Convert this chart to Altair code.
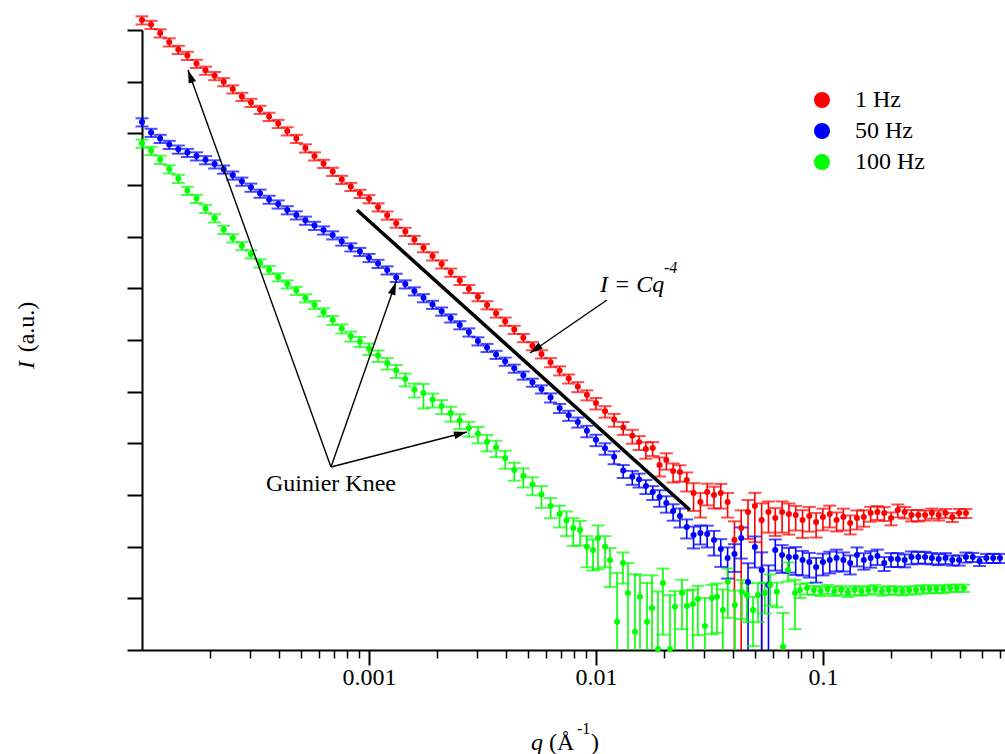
import math
import altair as alt
import pandas as pd

# ---------------- data ----------------
# log10 of q (1/Å) and log10 of I (a.u.), plus relative error dI/I per point
series_names = ["1 Hz", "50 Hz", "100 Hz"]
series_colors = ["#ff0000", "#0000ff", "#00ff00"]

red_log_q = [-4.00, -3.96, -3.92, -3.88, -3.84, -3.80, -3.76, -3.72, -3.68, -3.64,
             -3.60, -3.56, -3.52, -3.48, -3.44, -3.40, -3.36, -3.32, -3.28, -3.24,
             -3.20, -3.16, -3.12, -3.08, -3.04, -3.00, -2.96, -2.92, -2.88, -2.84,
             -2.80, -2.76, -2.72, -2.68, -2.64, -2.60, -2.56, -2.52, -2.48, -2.44,
             -2.40, -2.36, -2.32, -2.28, -2.24, -2.20, -2.16, -2.12, -2.08, -2.04,
             -2.00, -1.96, -1.92, -1.88, -1.84,
             -1.81, -1.78, -1.75, -1.72, -1.69, -1.66, -1.63, -1.60, -1.57, -1.54,
             -1.51, -1.48, -1.45, -1.42, -1.39, -1.36, -1.33, -1.30, -1.27, -1.24,
             -1.21, -1.18, -1.15, -1.12, -1.09, -1.06, -1.03, -1.00, -0.97, -0.94,
             -0.91, -0.88, -0.85, -0.82, -0.79, -0.76, -0.73, -0.70, -0.67, -0.64,
             -0.61, -0.58, -0.55, -0.52, -0.49, -0.46, -0.43, -0.40, -0.37]
red_log_I = [12.193, 12.106, 11.941, 11.767, 11.622, 11.506, 11.351, 11.219, 11.115, 10.997,
             10.857, 10.712, 10.596, 10.461, 10.325, 10.188, 10.045, 9.899, 9.715, 9.561,
             9.416, 9.261, 9.106, 8.970, 8.835, 8.732, 8.574, 8.415, 8.258, 8.100,
             7.943, 7.784, 7.625, 7.469, 7.310, 7.151, 6.994, 6.836, 6.679, 6.520,
             6.362, 6.203, 6.044, 5.887, 5.729, 5.570, 5.411, 5.254, 5.098, 4.939,
             4.780, 4.622, 4.463, 4.306, 4.148,
             4.026, 3.890, 3.909, 3.580, 3.677, 3.464, 3.445, 3.290, 3.039, 2.864,
             3.058, 3.000, 3.039, 2.864, 2.129, 2.361, 2.671, 2.787, 2.516, 2.671,
             2.555, 2.671, 2.632, 2.613, 2.516, 2.593, 2.477, 2.574, 2.632, 2.516,
             2.574, 2.458, 2.555, 2.574, 2.651, 2.671, 2.651, 2.555, 2.709, 2.671,
             2.613, 2.613, 2.613, 2.651, 2.613, 2.651, 2.574, 2.651, 2.651]
red_rel_err = [0.18, 0.18, 0.18, 0.18, 0.18, 0.18, 0.18, 0.18, 0.18, 0.18,
               0.18, 0.18, 0.18, 0.18, 0.18, 0.18, 0.18, 0.18, 0.18, 0.18,
               0.18, 0.18, 0.18, 0.18, 0.18, 0.18, 0.18, 0.18, 0.18, 0.18,
               0.18, 0.18, 0.18, 0.18, 0.18, 0.18, 0.18, 0.18, 0.18, 0.18,
               0.18, 0.18, 0.18, 0.18, 0.18, 0.20, 0.20, 0.20, 0.22, 0.22,
               0.25, 0.25, 0.28, 0.28, 0.30,
               0.30, 0.35, 0.30, 0.40, 0.35, 0.40, 0.35, 0.40, 0.55, 0.50,
               0.45, 0.45, 0.50, 0.50, 1.30, 1.20, 0.70, 0.80, 1.10, 0.60,
               0.55, 0.60, 0.60, 0.50, 0.55, 0.50, 0.50, 0.45, 0.45, 0.40,
               0.45, 0.40, 0.40, 0.35, 0.32, 0.30, 0.30, 0.28, 0.28, 0.25,
               0.25, 0.25, 0.22, 0.22, 0.22, 0.20, 0.20, 0.20, 0.20]

blue_log_q = [-4.00, -3.96, -3.92, -3.88, -3.84, -3.80, -3.76, -3.72, -3.68, -3.64,
              -3.60, -3.56, -3.52, -3.48, -3.44, -3.40, -3.36, -3.32, -3.28, -3.24,
              -3.20, -3.16, -3.12, -3.08, -3.04, -3.00, -2.96, -2.92, -2.88, -2.84,
              -2.80, -2.76, -2.72, -2.68, -2.64, -2.60, -2.56, -2.52, -2.48, -2.44,
              -2.40, -2.36, -2.32, -2.28, -2.24, -2.20, -2.16, -2.12, -2.08, -2.04,
              -2.00, -1.96, -1.92, -1.88, -1.84,
              -1.81, -1.78, -1.75, -1.72, -1.69, -1.66, -1.63, -1.60, -1.57, -1.54,
              -1.51, -1.48, -1.45, -1.42, -1.39, -1.36, -1.33, -1.30, -1.27, -1.24,
              -1.21, -1.18, -1.15, -1.12, -1.09, -1.06, -1.03, -1.00, -0.97, -0.94,
              -0.91, -0.88, -0.85, -0.82, -0.79, -0.76, -0.73, -0.70, -0.67, -0.64,
              -0.61, -0.58, -0.55, -0.52, -0.49, -0.46, -0.43, -0.40, -0.37, -0.34,
              -0.31, -0.28, -0.25, -0.22]
blue_log_I = [10.219, 10.016, 9.899, 9.783, 9.692, 9.628, 9.561, 9.487, 9.406, 9.305,
              9.189, 9.071, 8.955, 8.839, 8.721, 8.630, 8.518, 8.419, 8.316, 8.216,
              8.127, 8.032, 7.912, 7.800, 7.711, 7.594, 7.480, 7.354, 7.209, 7.083,
              6.948, 6.816, 6.687, 6.557, 6.425, 6.292, 6.153, 5.980, 5.853, 5.719,
              5.587, 5.452, 5.318, 5.181, 5.051, 4.887, 4.684, 4.544, 4.413, 4.242,
              4.070, 3.904, 3.739, 3.472, 3.352,
              3.300, 3.174, 3.058, 2.961, 2.845, 2.690, 2.593, 2.381, 2.226, 2.264,
              2.245, 2.129, 1.955, 1.781, 1.858, 2.168, 1.316, 1.993, 1.548, 1.258,
              1.935, 1.839, 1.800, 1.800, 1.742, 1.703, 1.606, 1.703, 1.742, 1.781,
              1.742, 1.684, 1.839, 1.742, 1.781, 1.819, 1.684, 1.761, 1.761, 1.742,
              1.800, 1.800, 1.800, 1.781, 1.761, 1.781, 1.742, 1.742, 1.800, 1.800,
              1.722, 1.781, 1.781, 1.781]
blue_rel_err = [0.18, 0.18, 0.18, 0.18, 0.18, 0.18, 0.18, 0.18, 0.18, 0.18,
                0.18, 0.18, 0.18, 0.18, 0.18, 0.18, 0.18, 0.18, 0.18, 0.18,
                0.18, 0.18, 0.18, 0.18, 0.18, 0.18, 0.18, 0.18, 0.18, 0.18,
                0.18, 0.18, 0.18, 0.18, 0.18, 0.18, 0.18, 0.18, 0.18, 0.18,
                0.18, 0.18, 0.18, 0.18, 0.18, 0.20, 0.20, 0.22, 0.22, 0.25,
                0.25, 0.25, 0.28, 0.28, 0.30,
                0.30, 0.30, 0.30, 0.35, 0.35, 0.35, 0.40, 0.40, 0.45, 0.40,
                0.45, 0.50, 0.55, 0.60, 0.55, 0.60, 1.30, 0.60, 1.20, 1.40,
                0.60, 0.55, 0.50, 0.55, 0.50, 0.50, 0.50, 0.45, 0.45, 0.45,
                0.40, 0.40, 0.40, 0.35, 0.35, 0.33, 0.30, 0.30, 0.30, 0.28,
                0.28, 0.26, 0.26, 0.25, 0.24, 0.24, 0.22, 0.22, 0.22, 0.20,
                0.20, 0.20, 0.20, 0.20]

green_log_q = [-4.00, -3.96, -3.92, -3.88, -3.84, -3.80, -3.76, -3.72, -3.68, -3.64,
               -3.60, -3.56, -3.52, -3.48, -3.44, -3.40, -3.36, -3.32, -3.28, -3.24,
               -3.20, -3.16, -3.12, -3.08, -3.04, -3.00, -2.96, -2.92, -2.88, -2.84,
               -2.80, -2.76, -2.72, -2.68, -2.64, -2.60, -2.56, -2.52, -2.48, -2.44,
               -2.40, -2.36, -2.32, -2.28, -2.24, -2.20, -2.16,
               -2.13, -2.10, -2.07,
               -2.040, -2.013, -1.991, -1.960, -1.938, -1.907, -1.881, -1.859, -1.828, -1.806,
               -1.775, -1.753, -1.727, -1.705, -1.674, -1.652, -1.621, -1.599, -1.573, -1.551,
               -1.520, -1.489, -1.467, -1.441, -1.419, -1.388, -1.357, -1.335, -1.308, -1.286,
               -1.256, -1.233, -1.203, -1.176, -1.154, -1.123, -1.101, -1.070,
               -1.04, -1.01, -0.98, -0.95, -0.92, -0.89, -0.86, -0.83, -0.80, -0.77,
               -0.74, -0.71, -0.68, -0.65, -0.62, -0.59, -0.56, -0.53, -0.50, -0.47,
               -0.44, -0.41, -0.38]
green_log_I = [9.807, 9.667, 9.493, 9.309, 9.125, 8.893, 8.738, 8.545, 8.361, 8.138,
               7.974, 7.823, 7.664, 7.490, 7.358, 7.219, 7.083, 6.958, 6.812, 6.683,
               6.542, 6.387, 6.222, 6.077, 5.971, 5.835, 5.700, 5.554, 5.409, 5.245,
               5.042, 4.974, 4.848, 4.722, 4.587, 4.442, 4.297, 4.186, 4.031, 3.919,
               3.716, 3.484, 3.368, 3.203, 3.009, 2.787, 2.632,
               2.506, 2.361, 2.322,
               1.999, 1.935, 2.168, 1.999, 1.742, 0.548, 1.684, 1.103, 0.354, 1.032,
               0.548, 0.813, 0.020, 1.297, 0.020, 0.838, 1.103, 0.852, 0.890, 0.987,
               0.464, 1.006, 1.032, 0.774, 1.322, 0.871, 1.123, 1.064, 0.774, 1.064,
               1.103, 1.258, 1.128, 0.064, 1.548, 1.103, 1.161, 1.200,
               1.161, 1.142, 1.181, 1.142, 1.161, 1.123, 1.161, 1.142, 1.161, 1.181,
               1.142, 1.161, 1.161, 1.142, 1.161, 1.161, 1.181, 1.181, 1.181, 1.181,
               1.200, 1.200, 1.200]
green_rel_err = [0.18, 0.18, 0.18, 0.18, 0.18, 0.18, 0.18, 0.18, 0.18, 0.18,
                 0.18, 0.18, 0.18, 0.18, 0.18, 0.18, 0.18, 0.18, 0.18, 0.18,
                 0.18, 0.20, 0.20, 0.22, 0.22, 0.25, 0.25, 0.25, 0.28, 0.28,
                 0.30, 0.50, 0.30, 0.30, 0.32, 0.32, 0.32, 0.35, 0.35, 0.35,
                 0.38, 0.38, 0.40, 0.38, 0.45, 0.42, 0.45,
                 0.50, 0.55, 0.50,
                 0.60, 0.60, 0.75, 0.60, 0.70, 7.8, 0.60, 2.8, 12.0, 1.6,
                 4.6, 3.3, 12.0, 0.90, 10.0, 1.0, 0.80, 1.0, 0.90, 0.80,
                 2.5, 0.80, 0.80, 1.5, 0.80, 0.90, 0.70, 0.70, 0.80, 0.70,
                 0.60, 0.60, 0.50, 3.5, 0.40, 0.80, 0.30, 0.25,
                 0.20, 0.20, 0.20, 0.20, 0.20, 0.20, 0.20, 0.19, 0.19, 0.19,
                 0.19, 0.19, 0.18, 0.18, 0.18, 0.18, 0.18, 0.17, 0.17, 0.17,
                 0.16, 0.16, 0.16]

# annotations (log10 q, log10 I)
guide_log_q = [-3.053, -1.586]
guide_log_I = [8.516, 2.709]
arrow_start_log_q = [-3.1674, -3.1674, -3.1674, -1.9515]
arrow_start_log_I = [3.542, 3.542, 3.542, 6.774]
arrow_end_log_q = [-3.7974, -2.8811, -2.5683, -2.2907]
arrow_end_log_I = [11.225, 7.122, 4.219, 5.748]

# ---------------- layout ----------------
W, H = 863, 620
X_MIN, X_MAX = 1e-4, 0.634
Y_MIN, Y_MAX = 1.0, 1e12
PX_X = W / (math.log10(X_MAX) - math.log10(X_MIN))
PX_Y = H / (math.log10(Y_MAX) - math.log10(Y_MIN))
FONT = "Liberation Serif"

rows = []
for name, lqs, lIs, rels in [("1 Hz", red_log_q, red_log_I, red_rel_err),
                             ("50 Hz", blue_log_q, blue_log_I, blue_rel_err),
                             ("100 Hz", green_log_q, green_log_I, green_rel_err)]:
    for a, b, r in zip(lqs, lIs, rels):
        I = 10 ** b
        lo = I * (1 - r)
        rows.append({"series": name, "q": 10 ** a, "I": I, "hi": I * (1 + r),
                     "lo": lo if lo > Y_MIN else Y_MIN, "lo_ok": lo > Y_MIN})
df = pd.DataFrame(rows)
df_locap = df[df["lo_ok"]].copy()

xs = alt.Scale(type="log", domain=[X_MIN, X_MAX], nice=False)
ys = alt.Scale(type="log", domain=[Y_MIN, Y_MAX], nice=False)
cs = alt.Scale(domain=series_names, range=series_colors)

ax_major = alt.Axis(values=[0.001, 0.01, 0.1], format="~g", orient="bottom", title=None,
                    labelFont=FONT, labelFontSize=24, labelColor="black", labelPadding=0,
                    tickSize=15, tickWidth=2, tickColor="black", domainColor="black",
                    domainWidth=2, grid=False, labelFlush=False)
minor_vals = [k * 10 ** e for e in (-4, -3, -2) for k in range(2, 10)] + [0.2, 0.3, 0.4, 0.5, 0.6]
ax_minor = alt.Axis(values=minor_vals, orient="bottom", title=None, labels=False,
                    tickSize=8, tickWidth=1.5, tickColor="black", domain=False, grid=False)
ax_y = alt.Axis(values=[10 ** k for k in range(13)], orient="left", title=None, labels=False,
                tickSize=15, tickWidth=2, tickColor="black", domainColor="black",
                domainWidth=2, grid=False)

legend_obj = alt.Legend(
    title=None, orient="none", legendX=668, legendY=58, padding=0,
    symbolType="circle", symbolSize=256, symbolStrokeWidth=0, symbolOpacity=1,
    labelFont=FONT, labelFontSize=24, labelColor="black", labelOffset=21,
    rowPadding=7)
color_enc = alt.Color("series:N", scale=cs, legend=legend_obj)

CAP = 13
bars = alt.Chart(df).mark_rule(strokeWidth=1.6).encode(
    x=alt.X("q:Q", scale=xs, axis=ax_major),
    y=alt.Y("lo:Q", scale=ys, axis=ax_y),
    y2="hi:Q",
    color=color_enc,
)
caps_hi = alt.Chart(df).mark_tick(orient="horizontal", size=CAP, thickness=2).encode(
    x=alt.X("q:Q", scale=xs, axis=None),
    y=alt.Y("hi:Q", scale=ys, axis=None),
    color=color_enc,
)
caps_lo = alt.Chart(df_locap).mark_tick(orient="horizontal", size=CAP, thickness=2).encode(
    x=alt.X("q:Q", scale=xs, axis=None),
    y=alt.Y("lo:Q", scale=ys, axis=None),
    color=color_enc,
)
points = alt.Chart(df).mark_circle(size=36, opacity=1).encode(
    x=alt.X("q:Q", scale=xs, axis=None),
    y=alt.Y("I:Q", scale=ys, axis=None),
    color=color_enc,
)
minor = alt.Chart(df).mark_point(opacity=0).encode(
    x=alt.X("q:Q", scale=xs, axis=ax_minor),
    y=alt.Y("I:Q", scale=ys, axis=None),
)

guide_df = pd.DataFrame({"q": [10 ** guide_log_q[0]], "I": [10 ** guide_log_I[0]],
                         "q2": [10 ** guide_log_q[1]], "I2": [10 ** guide_log_I[1]]})
guide = alt.Chart(guide_df).mark_rule(strokeWidth=3.5, color="black").encode(
    x=alt.X("q:Q", scale=xs, axis=None), y=alt.Y("I:Q", scale=ys, axis=None),
    x2="q2:Q", y2="I2:Q")

arr_rows = []
for a0, b0, a1, b1 in zip(arrow_start_log_q, arrow_start_log_I, arrow_end_log_q, arrow_end_log_I):
    dx = (a1 - a0) * PX_X
    dy = -(b1 - b0) * PX_Y
    ang = math.degrees(math.atan2(dx, -dy)) % 360
    arr_rows.append({"q": 10 ** a0, "I": 10 ** b0, "q2": 10 ** a1, "I2": 10 ** b1, "ang": ang})
arr_df = pd.DataFrame(arr_rows)
arrow_lines = alt.Chart(arr_df).mark_rule(strokeWidth=1.4, color="black").encode(
    x=alt.X("q:Q", scale=xs, axis=None), y=alt.Y("I:Q", scale=ys, axis=None),
    x2="q2:Q", y2="I2:Q")
arrow_heads = alt.Chart(arr_df).mark_point(
    shape="M0,0L-0.3,1L0.3,1Z", filled=True, color="black", opacity=1, size=676, strokeWidth=0
).encode(
    x=alt.X("q2:Q", scale=xs, axis=None), y=alt.Y("I2:Q", scale=ys, axis=None),
    angle=alt.Angle("ang:Q", scale=None))

txt_df = pd.DataFrame({
    "q": [10 ** -3.1674, 10 ** -1.9824, 10 ** -1.7004],
    "I": [10 ** 3.213, 10 ** 7.064, 10 ** 7.393],
    "t": ["Guinier Knee", "I = Cq", "-4"],
})
guinier = alt.Chart(txt_df.iloc[[0]]).mark_text(
    font=FONT, fontSize=24, color="black", align="center", baseline="middle").encode(
    x=alt.X("q:Q", scale=xs, axis=None), y=alt.Y("I:Q", scale=ys, axis=None), text="t:N")
law = alt.Chart(txt_df.iloc[[1]]).mark_text(
    font=FONT, fontSize=24, fontStyle="italic", color="black", align="left", baseline="middle").encode(
    x=alt.X("q:Q", scale=xs, axis=None), y=alt.Y("I:Q", scale=ys, axis=None), text="t:N")
law_sup = alt.Chart(txt_df.iloc[[2]]).mark_text(
    font=FONT, fontSize=16, fontStyle="italic", color="black", align="left", baseline="middle").encode(
    x=alt.X("q:Q", scale=xs, axis=None), y=alt.Y("I:Q", scale=ys, axis=None), text="t:N")

one = pd.DataFrame({"k": [0]})
def label(text, x, y, size=24, style="normal", angle=0, align="left", baseline="alphabetic"):
    return alt.Chart(one).mark_text(text=text, font=FONT, fontSize=size, fontStyle=style,
                                    color="black", angle=angle, align=align,
                                    baseline=baseline).encode(x=alt.value(x), y=alt.value(y))

ytitle_I = label("I", -115, 335, style="italic", angle=270, align="center", baseline="middle")
ytitle_rest = label("(a.u.)", -115, 297, angle=270, align="center", baseline="middle")
xt_q = label("q", 389, 720, style="italic")
xt_a = label("(Å", 407, 720)
xt_sup = label("-1", 435, 704, size=16)
xt_close = label(")", 449, 720)

chart = alt.layer(
    bars, caps_hi, caps_lo, points, minor, guide, arrow_lines, arrow_heads,
    guinier, law, law_sup, ytitle_I, ytitle_rest, xt_q, xt_a, xt_sup, xt_close
).resolve_axis(x="independent", y="independent").properties(
    width=W, height=H,
    padding={"left": 142, "top": 30, "right": 0, "bottom": 104},
    autosize=alt.AutoSizeParams(type="none"),
).configure(font=FONT).configure_view(strokeWidth=0, strokeOpacity=0)

chart.save("out.html", embed_options={"renderer": "svg", "actions": False})
